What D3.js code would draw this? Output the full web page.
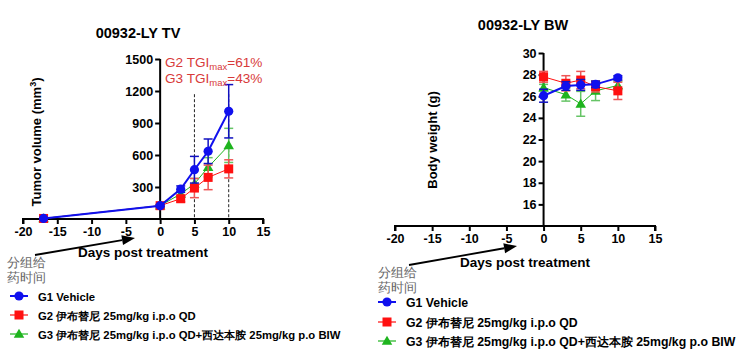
<!DOCTYPE html>
<html><head><meta charset="utf-8">
<script src="https://cdn.jsdelivr.net/npm/d3@7"></script>
<style>
html,body{margin:0;padding:0;background:#fff;}
svg{display:block;}
text{font-family:"Liberation Sans",Arial,sans-serif;}
</style></head>
<body>
<svg id="c" width="750" height="356"></svg>
<script>
// ---- data ----
const tvDays = [-17, 0, 3, 5, 7, 10];
const g1TV = [5, 125, 280, 462, 635, 1010];
const g1TVerr = [0, 10, 30, 125, 115, 250];
const g2TV = [5, 125, 190, 290, 390, 470];
const g2TVerr = [0, 10, 30, 90, 115, 85];
const g3TV = [5, 125, 235, 330, 485, 690];
const g3TVerr = [0, 10, 25, 50, 90, 160];

const bwDays = [0, 3, 5, 7, 10];
const g1BW = [26.05, 26.95, 27.05, 27.1, 27.7];
const g1BWerr = [0.6, 0.4, 0.5, 0.3, 0.2];
const g2BW = [27.8, 27.2, 27.5, 26.9, 26.5];
const g2BWerr = [0.5, 0.7, 0.8, 0.5, 0.8];
const g3BW = [26.8, 26.15, 25.3, 26.5, 27.0];
const g3BWerr = [0.3, 0.6, 1.15, 0.9, 0.4];

const xTicks = [-20, -15, -10, -5, 0, 5, 10, 15];
const tvTicks = [300, 600, 900, 1200, 1500];
const bwTicks = [16, 18, 20, 22, 24, 26, 28, 30];
const dashedDays = [5, 10];
const dashedTop = 1170;

const groupNames = ["G1 Vehicle", "G2 伊布替尼 25mg/kg i.p.o QD", "G3 伊布替尼 25mg/kg i.p.o QD+西达本胺 25mg/kg p.o BIW"];
const tgiLabels = [["G2 TGI", "max", "=61%"], ["G3 TGI", "max", "=43%"]];

// ---- styles ----
const styles = [
  {color:"#1010ee", err:"#1010c0", width:2, shape:"circle"},
  {color:"#ff1010", err:"#ee5555", width:1, shape:"square"},
  {color:"#1eb41e", err:"#66c466", width:1, shape:"triangle"}
];

const svg = d3.select("#c");

function drawMarker(g, shape, color, x, y) {
  if (shape === "circle") g.append("circle").attr("cx", x).attr("cy", y).attr("r", 4.6).attr("fill", color);
  else if (shape === "square") g.append("rect").attr("x", x-4.5).attr("y", y-4.5).attr("width", 9).attr("height", 9).attr("fill", color);
  else g.append("path").attr("d", d3.symbol().type(d3.symbolTriangle).size(48)()).attr("transform", `translate(${x},${y+0.8})`).attr("fill", color);
}

function panel(opt) {
  const g = svg.append("g");
  const x = d3.scaleLinear().domain([-20, 15]).range(opt.xr);
  const y = d3.scaleLinear().domain(opt.yd).range(opt.yr);
  const x0 = x(0);
  const fmt = d => String(d);
  const xa = g.append("g").attr("transform", `translate(0,${opt.yr[0]})`)
    .call(d3.axisBottom(x).tickValues(xTicks).tickSize(5).tickPadding(3).tickFormat(fmt));
  const ya = g.append("g").attr("transform", `translate(${x0},0)`)
    .call(d3.axisLeft(y).tickValues(opt.yTicks).tickSize(5).tickPadding(2).tickFormat(fmt));
  [xa, ya].forEach(a => {
    a.select(".domain").attr("stroke", "#000").attr("stroke-width", 2);
    a.selectAll(".tick line").attr("stroke", "#000").attr("stroke-width", 2);
    a.selectAll("text").attr("fill", "#000").attr("font-size", 12.5).attr("font-weight", "bold")
      .attr("font-family", '"Liberation Sans",Arial,sans-serif');
  });
  ya.select(".domain").attr("d", `M0,${opt.yr[1]}V${opt.yr[0]}`);
  xa.select(".domain").attr("d", `M${opt.xr[0]},5V0H${opt.xr[1]}V5`);

  if (opt.dashed) {
    dashedDays.forEach(d => {
      g.append("line").attr("x1", x(d)).attr("x2", x(d)).attr("y1", y(dashedTop)).attr("y2", opt.yr[0])
        .attr("stroke", "#222").attr("stroke-width", 1).attr("stroke-dasharray", "3,2");
    });
  }

  [2, 1, 0].forEach(i => {
    const s = styles[i];
    const vals = opt.series[i], errs = opt.errs[i];
    const pts = opt.days.map((d, k) => [x(d), y(vals[k]), errs[k], vals[k]]);
    g.append("path").datum(pts).attr("d", d3.line().x(p => p[0]).y(p => p[1]))
      .attr("fill", "none").attr("stroke", s.color).attr("stroke-width", s.width);
    pts.forEach(p => {
      if (p[2] > 0) {
        const yt = y(p[3] + p[2]), yb = y(p[3] - p[2]);
        g.append("line").attr("x1", p[0]).attr("x2", p[0]).attr("y1", yt).attr("y2", yb).attr("stroke", s.err).attr("stroke-width", 1.5);
        [yt, yb].forEach(yy => g.append("line").attr("x1", p[0]-4.5).attr("x2", p[0]+4.5).attr("y1", yy).attr("y2", yy).attr("stroke", s.err).attr("stroke-width", 1.5));
      }
      drawMarker(g, s.shape, s.color, p[0], p[1]);
    });
  });

  g.append("text").attr("x", opt.titleX).attr("y", opt.titleY).attr("text-anchor", "middle")
    .attr("font-size", 14.5).attr("font-weight", "bold").text(opt.title);
  const yl = g.append("text").attr("transform", `translate(${opt.ylabX},${opt.ylabY}) rotate(-90)`)
    .attr("text-anchor", "middle").attr("font-size", 13).attr("font-weight", "bold");
  if (opt.mm3) {
    yl.append("tspan").text("Tumor volume (mm");
    yl.append("tspan").attr("font-size", 9).attr("dy", -5).text("3");
    yl.append("tspan").attr("dy", 5).text(")");
  } else yl.text(opt.ylab);
  g.append("text").attr("x", opt.xlabX).attr("y", opt.xlabY).attr("text-anchor", "middle")
    .attr("font-size", 13.5).attr("font-weight", "bold").text("Days post treatment");

  const a = opt.arrow;
  const ang = Math.atan2(a[3]-a[1], a[2]-a[0]);
  const hl = 13, hw = 5;
  const bx = a[2] - hl*Math.cos(ang), by = a[3] - hl*Math.sin(ang);
  g.append("line").attr("x1", a[0]).attr("y1", a[1]).attr("x2", bx).attr("y2", by).attr("stroke", "#000").attr("stroke-width", 1.8);
  g.append("path").attr("d", `M${a[2]},${a[3]}L${bx - hw*Math.sin(ang)},${by + hw*Math.cos(ang)}L${bx + hw*Math.sin(ang)},${by - hw*Math.cos(ang)}Z`).attr("fill", "#000");

  const nt = g.append("text").attr("x", opt.noteX).attr("y", opt.noteY).attr("font-size", 13).attr("fill", "#666")
    .attr("font-family", '"Noto Serif CJK SC","Noto Sans CJK SC",serif');
  nt.append("tspan").attr("x", opt.noteX).text("分组给");
  nt.append("tspan").attr("x", opt.noteX).attr("dy", 15).text("药时间");

  groupNames.forEach((name, i) => {
    const s = styles[i];
    const ly = opt.legY[i];
    g.append("line").attr("x1", opt.legX).attr("x2", opt.legX + 18).attr("y1", ly).attr("y2", ly).attr("stroke", s.color).attr("stroke-width", s.width === 2 ? 2 : 1.2);
    drawMarker(g, s.shape, s.color, opt.legX + 9, ly);
    g.append("text").attr("x", opt.legX + 28).attr("y", ly + 4.5).attr("font-size", opt.legFont).attr("font-weight", "bold")
      .attr("font-family", '"Liberation Sans","Noto Sans CJK SC",Arial,sans-serif').text(name);
  });
  return {x, y, g};
}

const left = panel({
  xr: [23, 263], yd: [0, 1500], yr: [219, 59], yTicks: tvTicks,
  days: tvDays, series: [g1TV, g2TV, g3TV], errs: [g1TVerr, g2TVerr, g3TVerr],
  dashed: true, title: "00932-LY TV", titleX: 138, titleY: 38,
  mm3: true, ylabX: 41, ylabY: 142, xlabX: 143, xlabY: 257,
  arrow: [35, 255, 135, 238], noteX: 7, noteY: 267,
  legX: 10, legY: [296, 315, 334], legFont: 11.3
});
tgiLabels.forEach((t, i) => {
  const tx = left.g.append("text").attr("x", 165).attr("y", 67 + i*16).attr("font-size", 13.6).attr("fill", "#d83a3a");
  tx.append("tspan").text(t[0]);
  tx.append("tspan").attr("font-size", 9.5).attr("dy", 3).text(t[1]);
  tx.append("tspan").attr("dy", -3).text(t[2]);
});

panel({
  xr: [395, 655], yd: [14, 30], yr: [226, 53], yTicks: bwTicks,
  days: bwDays, series: [g1BW, g2BW, g3BW], errs: [g1BWerr, g2BWerr, g3BWerr],
  dashed: false, title: "00932-LY BW", titleX: 523, titleY: 30,
  mm3: false, ylab: "Body weight (g)", ylabX: 437, ylabY: 140, xlabX: 525, xlabY: 267,
  arrow: [409, 265, 517, 246], noteX: 378, noteY: 277,
  legX: 378, legY: [302, 322, 341], legFont: 12.3
});
</script>
</body></html>
